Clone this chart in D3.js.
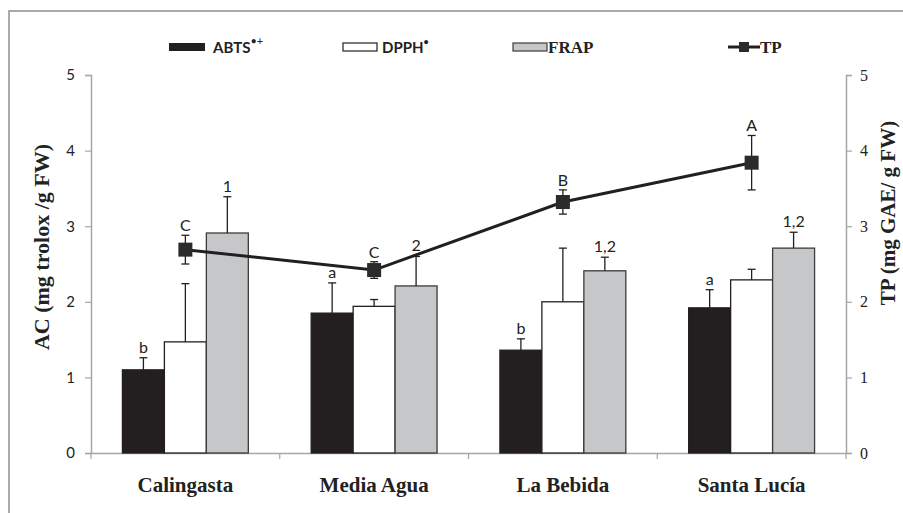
<!DOCTYPE html>
<html>
<head>
<meta charset="utf-8">
<script src="https://cdn.jsdelivr.net/npm/d3@7"></script>
<style>
  body { margin: 0; background: #fff; }
  svg { display: block; }
</style>
</head>
<body>
<div id="chart"></div>
<script>
const categories = ['Calingasta', 'Media Agua', 'La Bebida', 'Santa Lucía'];
const abts = [1.10, 1.85, 1.36, 1.92];
const abtsErr = [0.16, 0.40, 0.15, 0.24];
const dpph = [1.47, 1.94, 2.00, 2.29];
const dpphErr = [0.77, 0.09, 0.71, 0.14];
const frap = [2.91, 2.21, 2.41, 2.71];
const frapErr = [0.48, 0.39, 0.18, 0.21];
const tp = [2.69, 2.42, 3.32, 3.84];
const tpErr = [0.19, 0.11, 0.16, 0.36];
const abtsLetters = ['b', 'a', 'b', 'a'];
const frapLetters = ['1', '2', '1,2', '1,2'];
const tpLetters = ['C', 'C', 'B', 'A'];
const yTicks = [0, 1, 2, 3, 4, 5];

const W = 903, H = 513;
const plotLeft = 91, plotRight = 846, plotTop = 75, plotBottom = 453;
const sans = "Lato, 'Open Sans', sans-serif";
const serif = "'Liberation Serif', 'Times New Roman', serif";
const dark = '#231f20';
const axisGrey = '#a6a6a6';

const svg = d3.select('#chart').append('svg')
    .attr('width', W)
    .attr('height', H);

// outer frame (only top and left show in the picture)
svg.append('rect')
    .attr('x', 9).attr('y', 11)
    .attr('width', 920).attr('height', 540)
    .attr('fill', 'none')
    .attr('stroke', '#ababab')
    .attr('stroke-width', 2);

const x = d3.scaleBand().domain(categories).range([plotLeft, plotRight]);
const series = ['abts', 'dpph', 'frap'];
const groupW = x.bandwidth() * 0.667;
const xs = d3.scaleBand().domain(series)
    .range([(x.bandwidth() - groupW) / 2, (x.bandwidth() + groupW) / 2]);
const y = d3.scaleLinear().domain([0, 5]).range([plotBottom, plotTop]);
const y2 = d3.scaleLinear().domain([0, 5]).range([plotBottom, plotTop]);

// axes
const yAxis = svg.append('g')
    .attr('transform', `translate(${plotLeft},0)`)
    .call(d3.axisLeft(y).tickValues(yTicks).tickSize(6).tickPadding(10).tickFormat(d3.format('d')));
yAxis.selectAll('text').attr('font-family', sans).attr('font-size', 15).attr('fill', '#222');

const y2Axis = svg.append('g')
    .attr('transform', `translate(${plotRight},0)`)
    .call(d3.axisRight(y2).tickValues(yTicks).tickSize(6).tickPadding(8).tickFormat(d3.format('d')));
y2Axis.selectAll('text').attr('font-family', serif).attr('font-size', 16).attr('fill', '#222');

const xAxis = svg.append('g')
    .attr('transform', `translate(0,${plotBottom})`)
    .call(d3.axisBottom(x).tickSize(0).tickPadding(24));
xAxis.selectAll('text')
    .attr('font-family', serif).attr('font-size', 21).attr('font-weight', 'bold').attr('fill', '#222');

// category divider ticks on the x axis
svg.append('g').selectAll('line')
    .data(categories.concat(['end']))
    .join('line')
    .attr('x1', (d, i) => i < categories.length ? x(d) : plotRight)
    .attr('x2', (d, i) => i < categories.length ? x(d) : plotRight)
    .attr('y1', plotBottom).attr('y2', plotBottom + 6)
    .attr('stroke', axisGrey).attr('stroke-width', 1.2);

svg.selectAll('.domain').attr('stroke', axisGrey).attr('stroke-width', 1.5);
svg.selectAll('.tick line').attr('stroke', axisGrey).attr('stroke-width', 1.2);

// bars
const barData = [];
categories.forEach((c, i) => {
    barData.push({ c, s: 'abts', v: abts[i], e: abtsErr[i], label: abtsLetters[i], fill: dark, stroke: dark });
    barData.push({ c, s: 'dpph', v: dpph[i], e: dpphErr[i], label: '', fill: '#fff', stroke: dark });
    barData.push({ c, s: 'frap', v: frap[i], e: frapErr[i], label: frapLetters[i], fill: '#c6c7c9', stroke: '#3b3b3b' });
});

const bars = svg.append('g');
bars.selectAll('rect')
    .data(barData)
    .join('rect')
    .attr('x', d => x(d.c) + xs(d.s))
    .attr('y', d => y(d.v))
    .attr('width', xs.bandwidth())
    .attr('height', d => plotBottom - y(d.v))
    .attr('fill', d => d.fill)
    .attr('stroke', d => d.stroke)
    .attr('stroke-width', 1.3);

// error bars (upper only)
const errs = svg.append('g').attr('stroke', dark).attr('stroke-width', 1.3);
barData.forEach(d => {
    const cx = x(d.c) + xs(d.s) + xs.bandwidth() / 2;
    errs.append('line').attr('x1', cx).attr('x2', cx).attr('y1', y(d.v)).attr('y2', y(d.v + d.e));
    errs.append('line').attr('x1', cx - 4).attr('x2', cx + 4).attr('y1', y(d.v + d.e)).attr('y2', y(d.v + d.e));
});

svg.append('g').selectAll('text')
    .data(barData.filter(d => d.label))
    .join('text')
    .attr('x', d => x(d.c) + xs(d.s) + xs.bandwidth() / 2)
    .attr('y', d => y(d.v + d.e) - 5)
    .attr('text-anchor', 'middle')
    .attr('font-family', sans).attr('font-size', 16).attr('fill', '#222')
    .text(d => d.label);

// TP line
const tpData = categories.map((c, i) => ({ c, v: tp[i], e: tpErr[i], label: tpLetters[i] }));
const cxp = d => x(d.c) + x.bandwidth() / 2;

svg.append('path')
    .datum(tpData)
    .attr('fill', 'none')
    .attr('stroke', dark)
    .attr('stroke-width', 3)
    .attr('d', d3.line().x(cxp).y(d => y2(d.v)));

const tpErrG = svg.append('g').attr('stroke', dark).attr('stroke-width', 1.3);
tpData.forEach(d => {
    const cx = cxp(d);
    tpErrG.append('line').attr('x1', cx).attr('x2', cx).attr('y1', y2(d.v - d.e)).attr('y2', y2(d.v + d.e));
    [d.v - d.e, d.v + d.e].forEach(v => {
        tpErrG.append('line').attr('x1', cx - 4).attr('x2', cx + 4).attr('y1', y2(v)).attr('y2', y2(v));
    });
});

svg.append('g').selectAll('rect')
    .data(tpData)
    .join('rect')
    .attr('x', d => cxp(d) - 7)
    .attr('y', d => y2(d.v) - 7)
    .attr('width', 14).attr('height', 14)
    .attr('fill', '#2b2b2b');

svg.append('g').selectAll('text')
    .data(tpData)
    .join('text')
    .attr('x', cxp)
    .attr('y', d => y2(d.v + d.e) - 4)
    .attr('text-anchor', 'middle')
    .attr('font-family', sans).attr('font-size', 16).attr('fill', '#222')
    .text(d => d.label);

// axis titles
svg.append('text')
    .attr('transform', 'translate(49,247) rotate(-90)')
    .attr('text-anchor', 'middle')
    .attr('font-family', serif).attr('font-size', 22).attr('font-weight', 'bold').attr('fill', '#222')
    .text('AC (mg trolox /g FW)');

svg.append('text')
    .attr('transform', 'translate(895,213) rotate(-90)')
    .attr('text-anchor', 'middle')
    .attr('font-family', serif).attr('font-size', 21).attr('font-weight', 'bold').attr('fill', '#222')
    .text('TP (mg GAE/ g FW)');

// legend
const lg = svg.append('g');
const ly = 47;
lg.append('rect').attr('x', 169).attr('y', ly - 4).attr('width', 36).attr('height', 8).attr('fill', dark);
const t1 = lg.append('text').attr('x', 213).attr('y', ly + 6)
    .attr('font-family', sans).attr('font-size', 15).attr('font-weight', 'bold').attr('fill', '#222');
t1.append('tspan').text('ABTS');
t1.append('tspan').attr('dy', -8).attr('font-size', 11).attr('font-weight', 'normal').text('•+');

lg.append('rect').attr('x', 343).attr('y', ly - 4).attr('width', 34).attr('height', 8)
    .attr('fill', '#fff').attr('stroke', dark).attr('stroke-width', 1.2);
const t2 = lg.append('text').attr('x', 382).attr('y', ly + 6)
    .attr('font-family', sans).attr('font-size', 15).attr('font-weight', 'bold').attr('fill', '#222');
t2.append('tspan').text('DPPH');
t2.append('tspan').attr('dy', -8).attr('font-size', 9).text('•');

lg.append('rect').attr('x', 513).attr('y', ly - 4).attr('width', 34).attr('height', 8)
    .attr('fill', '#c6c7c9').attr('stroke', '#3b3b3b').attr('stroke-width', 1.2);
lg.append('text').attr('x', 548).attr('y', ly + 6)
    .attr('font-family', serif).attr('font-size', 17).attr('font-weight', 'bold').attr('fill', '#222')
    .text('FRAP');

lg.append('line').attr('x1', 728).attr('x2', 760).attr('y1', ly).attr('y2', ly)
    .attr('stroke', dark).attr('stroke-width', 3);
lg.append('rect').attr('x', 739).attr('y', ly - 5).attr('width', 10).attr('height', 10).attr('fill', '#2b2b2b');
lg.append('text').attr('x', 760).attr('y', ly + 6)
    .attr('font-family', serif).attr('font-size', 17).attr('font-weight', 'bold').attr('fill', '#222')
    .text('TP');
</script>
</body>
</html>
